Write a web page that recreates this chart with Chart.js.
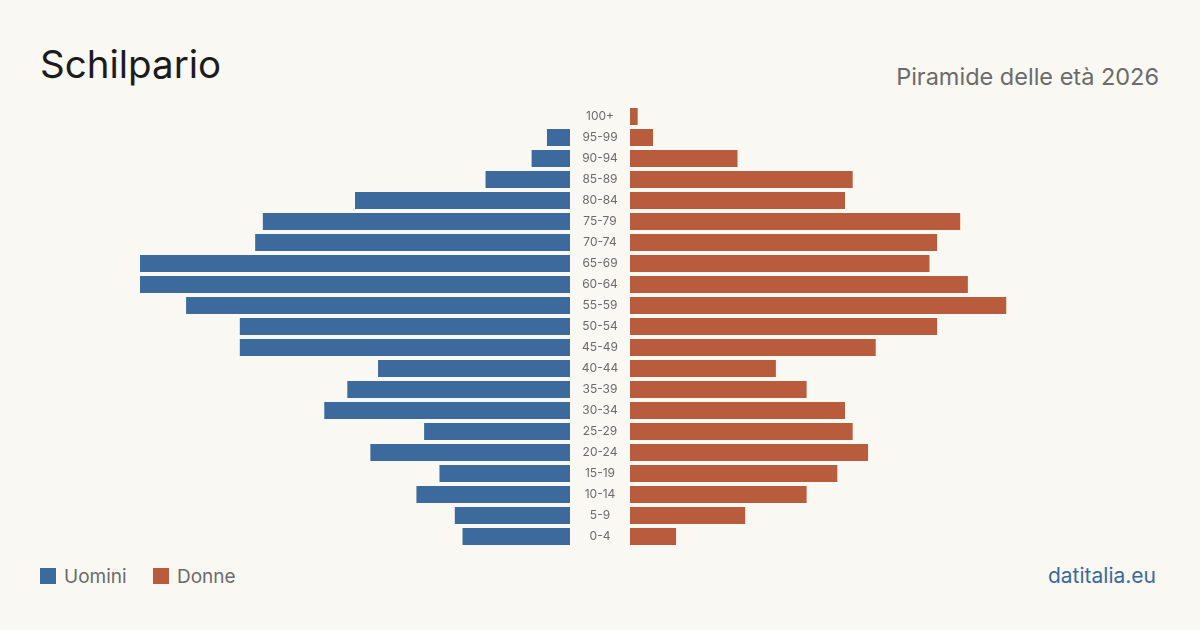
<!DOCTYPE html>
<html>
<head>
<meta charset="utf-8">
<script src="https://cdn.jsdelivr.net/npm/chart.js@4/dist/chart.umd.min.js"></script>
<style>
  html, body { margin: 0; padding: 0; }
  body { width: 1200px; height: 630px; background: #f9f8f3; position: relative; overflow: hidden; font-family: Inter, "Noto Sans", sans-serif; }
  #title { position: absolute; left: 40px; top: 45px; font-size: 38.5px; color: #1c1c1c; line-height: 1; font-weight: 400; }
  #subtitle { position: absolute; right: 41px; top: 64.5px; font-size: 23.5px; color: #6b6b6b; line-height: 1; }
  canvas { position: absolute; }
  #cLeft { left: 140px; top: 106px; }
  #cRight { left: 570px; top: 106px; }
  .sw { position: absolute; top: 568px; width: 16px; height: 16px; }
  .legtxt { position: absolute; top: 566.5px; font-size: 19px; color: #6b6b6b; line-height: 1; }
  #brand { position: absolute; right: 44px; top: 565px; font-size: 21px; color: #3d6a9c; line-height: 1; }
</style>
</head>
<body>
<div id="title">Schilpario</div>
<div id="subtitle">Piramide delle età 2026</div>
<canvas id="cLeft" width="430" height="441"></canvas>
<canvas id="cRight" width="490" height="441"></canvas>
<span class="sw" style="left:40px;background:#3d6a9c"></span><span class="legtxt" style="left:64px">Uomini</span>
<span class="sw" style="left:153px;background:#b95c3d"></span><span class="legtxt" style="left:177px">Donne</span>
<div id="brand">datitalia.eu</div>
<script>
const ageGroups = ["0-4","5-9","10-14","15-19","20-24","25-29","30-34","35-39","40-44","45-49","50-54","55-59","60-64","65-69","70-74","75-79","80-84","85-89","90-94","95-99","100+"];
const men   = [14, 15, 20, 17, 26, 19, 32, 29, 25, 43, 43, 50, 56, 56, 41, 40, 28, 11, 5, 3, 0];
const women = [6, 15, 23, 27, 31, 29, 28, 23, 19, 32, 40, 49, 44, 39, 40, 43, 28, 29, 14, 3, 1];

const blue = "#3d6a9c";
const orange = "#b95c3d";
const maxVal = Math.max(...men, ...women);
const labelFont = "12px Inter";
const axisWidth = 60;

// measure widest label so the tick labels are centred in the middle column
const mctx = document.createElement("canvas").getContext("2d");
mctx.font = labelFont;
const widest = Math.max(...ageGroups.map(l => mctx.measureText(l).width));
const tickPad = axisWidth / 2 - widest / 2;

const common = {
  indexAxis: "y",
  responsive: false,
  animation: false,
  devicePixelRatio: 1,
  layout: { padding: 0 },
  plugins: { legend: { display: false }, tooltip: { enabled: false } },
};

new Chart(document.getElementById("cLeft"), {
  type: "bar",
  data: { labels: ageGroups, datasets: [{ label: "Uomini", data: men, backgroundColor: blue, borderWidth: 0, barPercentage: 0.81, categoryPercentage: 1 }] },
  options: Object.assign({}, common, {
    scales: {
      x: { display: false, min: 0, max: maxVal, reverse: true },
      y: { display: false, reverse: true }
    }
  })
});

new Chart(document.getElementById("cRight"), {
  type: "bar",
  data: { labels: ageGroups, datasets: [{ label: "Donne", data: women, backgroundColor: orange, borderWidth: 0, barPercentage: 0.81, categoryPercentage: 1 }] },
  options: Object.assign({}, common, {
    scales: {
      x: { display: false, min: 0, max: maxVal },
      y: {
        reverse: true,
        position: "left",
        grid: { display: false, drawTicks: false },
        border: { display: false },
        ticks: { color: "#6b6b6b", font: { family: "Inter", size: 12 }, crossAlign: "center", padding: tickPad, autoSkip: false },
        afterFit: (s) => { s.width = axisWidth; s.paddingTop = 0; s.paddingBottom = 0; }
      }
    }
  })
});
</script>
</body>
</html>
